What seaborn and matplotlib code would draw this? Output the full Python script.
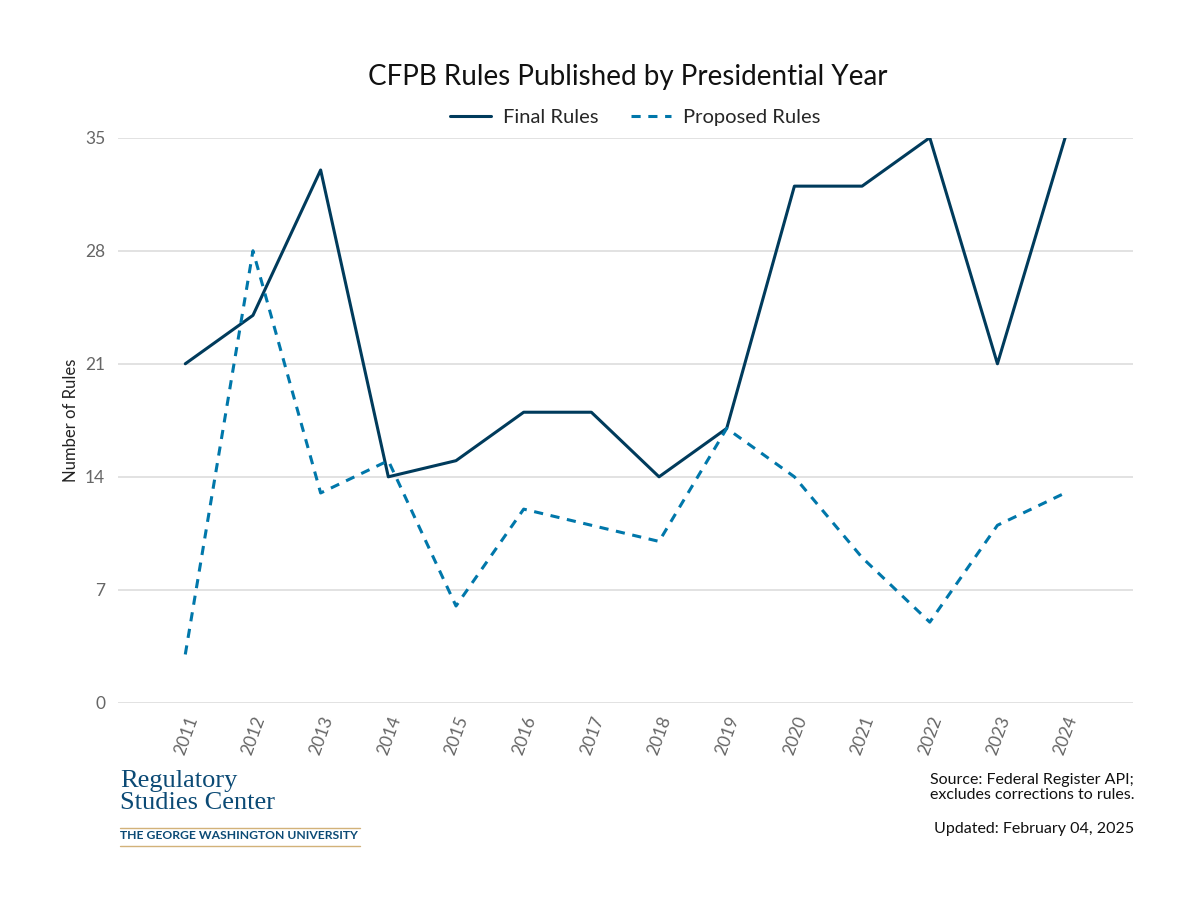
import pandas as pd
import seaborn as sns
import matplotlib.pyplot as plt

# ----------------------------
# Data
# ----------------------------
years = [2011, 2012, 2013, 2014, 2015, 2016, 2017, 2018, 2019, 2020, 2021, 2022, 2023, 2024]
final_rules = [21, 24, 33, 14, 15, 18, 18, 14, 17, 32, 32, 35, 21, 35]
proposed_rules = [3, 28, 13, 15, 6, 12, 11, 10, 17, 14, 9, 5, 11, 13]
y_ticks = [0, 7, 14, 21, 28, 35]

df = pd.DataFrame({
    "Year": years * 2,
    "Rules": final_rules + proposed_rules,
    "Type": ["Final Rules"] * len(years) + ["Proposed Rules"] * len(years),
})

# ----------------------------
# Style
# ----------------------------
sns.set_theme(style="white")
plt.rcParams["font.family"] = ["Lato", "DejaVu Sans"]

palette = {"Final Rules": "#003b5c", "Proposed Rules": "#0077aa"}
dashes = {"Final Rules": "", "Proposed Rules": (3, 2.5)}

fig = plt.figure(figsize=(12, 9), dpi=100)
ax = fig.add_axes([0.098, 0.219, 0.846, 0.628])

sns.lineplot(data=df, x="Year", y="Rules", hue="Type", style="Type",
             palette=palette, dashes=dashes, linewidth=2.2, ax=ax)

ax.set_xlim(2010, 2025)
ax.set_ylim(0, 35)
ax.set_yticks(y_ticks)
ax.set_xticks(years)
ax.set_xticklabels([str(y) for y in years], rotation=70, ha="right",
                   rotation_mode="anchor", fontsize=12.5, color="#666666")
ax.tick_params(axis="y", labelsize=12.5, labelcolor="#666666", length=0, pad=9)
ax.tick_params(axis="x", length=0, pad=8)
ax.yaxis.grid(True, color="#dddddd", linewidth=1.2)
ax.xaxis.grid(False)
for s in ax.spines.values():
    s.set_visible(False)
ax.set_xlabel("")
ax.set_ylabel("Number of Rules", fontsize=12, color="#222222", labelpad=4)

ax.legend(loc="lower center", bbox_to_anchor=(0.51, 1.0), ncol=2, frameon=False,
          fontsize=14.5, handlelength=2.0, handletextpad=0.6,
          columnspacing=1.6, borderaxespad=0.2)

fig.text(0.523, 0.915, "CFPB Rules Published by Presidential Year",
         ha="center", va="center", fontsize=20, color="#111111")

# Footer notes
fig.text(0.945, 0.125, "Source: Federal Register API;\nexcludes corrections to rules.",
         ha="right", va="center", fontsize=11.5, color="#111111", linespacing=1.1)
fig.text(0.945, 0.079, "Updated: February 04, 2025",
         ha="right", va="center", fontsize=11.5, color="#111111")

# Logo block
fig.text(0.1, 0.12, "Regulatory\nStudies Center", ha="left", va="center",
         fontsize=19, color="#0b4a75", family="Liberation Serif", linespacing=1.0)
fig.add_artist(plt.Line2D([0.1, 0.3], [0.0805, 0.0805], color="#d2b27a", linewidth=1))
fig.text(0.1, 0.0715, "THE GEORGE WASHINGTON UNIVERSITY", ha="left", va="center",
         fontsize=8.7, color="#0b4a75", fontweight="bold")
fig.add_artist(plt.Line2D([0.1, 0.3], [0.0605, 0.0605], color="#d2b27a", linewidth=1))

fig.savefig("out.png", dpi=100, facecolor="white")
plt.close()
